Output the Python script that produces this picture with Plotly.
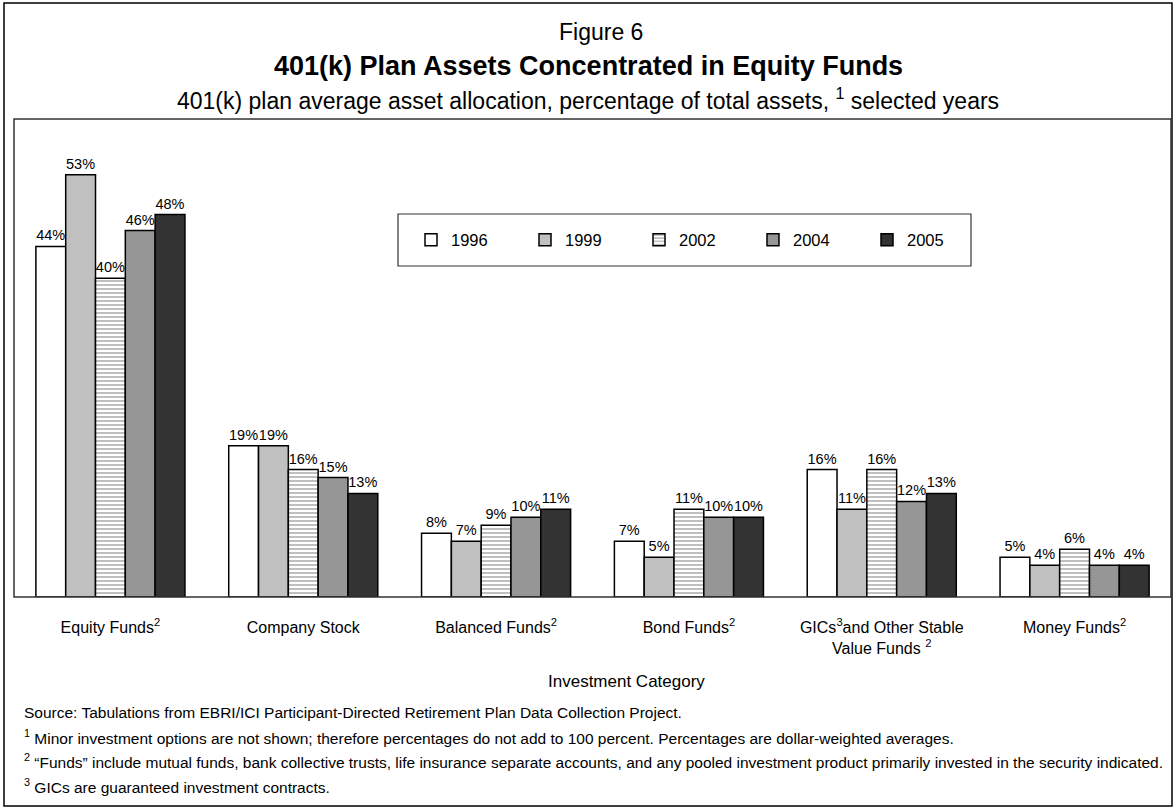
import plotly.graph_objects as go

categories = [
    "Equity Funds<sup>2</sup>",
    "Company Stock",
    "Balanced Funds<sup>2</sup>",
    "Bond Funds<sup>2</sup>",
    "GICs<sup>3</sup>and Other Stable<br>Value Funds <sup>2</sup>",
    "Money Funds<sup>2</sup>",
]
years = ["1996", "1999", "2002", "2004", "2005"]
v1996 = [44, 19, 8, 7, 16, 5]
v1999 = [53, 19, 7, 5, 11, 4]
v2002 = [40, 16, 9, 11, 16, 6]
v2004 = [46, 15, 10, 10, 12, 4]
v2005 = [48, 13, 11, 10, 13, 4]
series = [v1996, v1999, v2002, v2004, v2005]

colors = ["#ffffff", "#c0c0c0", "#ffffff", "#969696", "#333333"]
patterns = [None, None, dict(shape="-", fgcolor="#7f7f7f", bgcolor="#ffffff", size=4, solidity=0.5), None, None]

W, H = 1175, 808
L, R, T, B = 14, 4, 119, 211
pw, ph = W - L - R, H - T - B

def px(x):
    return (x - L) / pw

def py(y):
    return (H - B - y) / ph

FONT = "Liberation Sans, Arial, sans-serif"

fig = go.Figure()
for yr, vals, c, pat in zip(years, series, colors, patterns):
    marker = dict(color=c, line=dict(color="#000000", width=1.5))
    if pat:
        marker["pattern"] = pat
    fig.add_trace(go.Bar(
        name=yr, x=categories, y=vals, marker=marker,
        texttemplate="%{y}%", textposition="outside", constraintext="none",
        textfont=dict(size=14.5, color="#000000", family=FONT),
        cliponaxis=False,
    ))

shapes = [
    dict(type="rect", xref="paper", yref="paper", x0=px(4), x1=px(1172), y0=py(806), y1=py(3),
         line=dict(color="#000000", width=1.5), fillcolor="rgba(0,0,0,0)", layer="above"),
    dict(type="rect", xref="paper", yref="paper", x0=0, x1=1, y0=0, y1=1,
         line=dict(color="#333333", width=1.5), fillcolor="rgba(0,0,0,0)", layer="above"),
    dict(type="rect", xref="paper", yref="paper", x0=px(398), x1=px(971), y0=py(266), y1=py(214),
         line=dict(color="#333333", width=1.2), fillcolor="rgba(0,0,0,0)", layer="above"),
]

annotations = [
    dict(text="Figure 6", x=px(601), xref="paper", y=py(32), yref="paper", showarrow=False,
         font=dict(size=23, family=FONT, color="#000000"), xanchor="center", yanchor="middle"),
    dict(text="<b>401(k) Plan Assets Concentrated in Equity Funds</b>", x=px(588), xref="paper", y=py(66), yref="paper",
         showarrow=False, font=dict(size=27, family=FONT, color="#000000"), xanchor="center", yanchor="middle"),
    dict(text="401(k) plan average asset allocation, percentage of total assets, <sup>1</sup> selected years",
         x=px(588), xref="paper", y=py(99), yref="paper", showarrow=False,
         font=dict(size=23, family=FONT, color="#000000"), xanchor="center", yanchor="middle"),
    dict(text="Investment Category", x=px(626), xref="paper", y=py(681), yref="paper", showarrow=False,
         font=dict(size=17, family=FONT, color="#000000"), xanchor="center", yanchor="middle"),
]
foot = [
    "Source: Tabulations from EBRI/ICI Participant-Directed Retirement Plan Data Collection Project.",
    "<sup>1</sup> Minor investment options are not shown; therefore percentages do not add to 100 percent. Percentages are dollar-weighted averages.",
    "<sup>2</sup> \u201cFunds\u201d include mutual funds, bank collective trusts, life insurance separate accounts, and any pooled investment product primarily invested in the security indicated.",
    "<sup>3</sup> GICs are guaranteed investment contracts.",
]
for i, t in enumerate(foot):
    annotations.append(dict(text=t, x=px(22), xref="paper", y=py(712 + 24.5 * i), yref="paper", showarrow=False,
                            font=dict(size=15.5, family=FONT, color="#000000"), xanchor="left", yanchor="middle"))

fig.update_layout(
    width=W, height=H,
    margin=dict(l=L, r=R, t=T, b=B),
    paper_bgcolor="#ffffff", plot_bgcolor="#ffffff",
    font=dict(family=FONT, color="#000000"),
    barmode="group", bargap=0.227, bargroupgap=0,
    showlegend=True,
    legend=dict(orientation="h", x=px(411), xanchor="left", y=py(240), yanchor="middle",
                font=dict(size=16.5, family=FONT, color="#000000"), bgcolor="rgba(0,0,0,0)",
                borderwidth=0, entrywidth=69, itemwidth=30, traceorder="normal"),
    shapes=shapes, annotations=annotations,
)
fig.update_xaxes(showline=False, ticks="", tickfont=dict(size=16, family=FONT, color="#000000"),
                 showgrid=False, zeroline=False, ticklabelstandoff=19)
fig.update_yaxes(range=[0, 60], showticklabels=False, showgrid=False, zeroline=False, showline=False, ticks="")

fig.write_html("out.html", config={"displayModeBar": False},
               post_script="document.body.style.margin='0';document.body.style.overflow='hidden';")
